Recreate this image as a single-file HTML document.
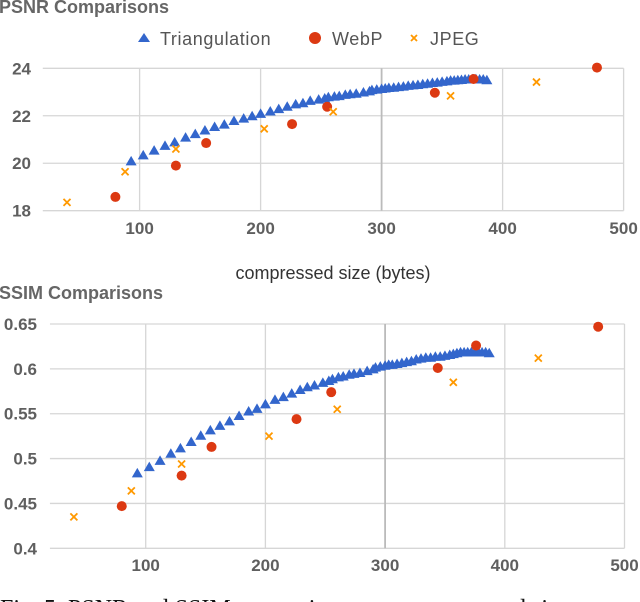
<!DOCTYPE html>
<html><head><meta charset="utf-8"><style>
html,body{margin:0;padding:0;background:#fff;width:640px;height:602px;overflow:hidden}
svg{display:block;font-family:"Liberation Sans",sans-serif}
</style></head><body>
<svg id="chart" width="640" height="602" viewBox="0 0 640 602"></svg>
<script>
const xTicks=[100,200,300,400,500];
const psnrTicks=[18,20,22,24];
const ssimTicks=[0.4,0.45,0.5,0.55,0.6,0.65];
const ssimTickLabels=["0.4","0.45","0.5","0.55","0.6","0.65"];
const triX=[93,103,112,121,129,138,146,154,162,170,178,186,193,200,208,215,222,229,235,241,248,253,256,261,265,270,274,279,285,290,292,296,300,303,306,310,314,318,322,326,330,334,338,342,346,350,354,357,360,363,366,369,372,375,378,381,384,387];
const triPsnr=[20.1,20.35,20.55,20.75,20.9,21.1,21.25,21.4,21.55,21.65,21.8,21.9,22.0,22.1,22.2,22.3,22.4,22.5,22.55,22.65,22.7,22.75,22.8,22.83,22.85,22.9,22.93,22.95,23.0,23.05,23.1,23.12,23.15,23.17,23.19,23.2,23.23,23.25,23.28,23.3,23.32,23.35,23.37,23.4,23.42,23.45,23.47,23.5,23.5,23.52,23.53,23.55,23.55,23.56,23.56,23.55,23.55,23.52];
const triSsim=[0.484,0.491,0.498,0.506,0.512,0.519,0.526,0.532,0.537,0.542,0.548,0.553,0.556,0.561,0.566,0.569,0.573,0.577,0.580,0.582,0.585,0.587,0.589,0.591,0.592,0.594,0.595,0.596,0.598,0.600,0.602,0.603,0.604,0.605,0.605,0.606,0.607,0.608,0.609,0.611,0.612,0.613,0.613,0.614,0.614,0.615,0.616,0.617,0.618,0.619,0.619,0.619,0.619,0.619,0.619,0.619,0.619,0.618];
const webpX=[80,130,155,226,255,344,376,478];
const webpPsnr=[18.58,19.9,20.85,21.65,22.38,22.97,23.55,24.03];
const webpSsim=[0.447,0.481,0.513,0.544,0.574,0.601,0.626,0.647];
const jpegX=[40,88,130,203,260,357,428];
const jpegPsnr=[18.35,19.64,20.6,21.45,22.17,22.84,23.42];
const jpegSsim=[0.435,0.464,0.494,0.525,0.555,0.585,0.612];

const NS="http://www.w3.org/2000/svg";
const svg=document.getElementById('chart');
function mk(tag,attrs,parent){const e=document.createElementNS(NS,tag);for(const k in attrs)e.setAttribute(k,attrs[k]);(parent||svg).appendChild(e);return e;}
function txt(s,attrs,parent){const e=mk('text',attrs,parent);e.textContent=s;return e;}

function drawPanel(cfg){
  const g=mk('g',{});
  
  
  const sx=v=>cfg.x100+(v-100)*cfg.xs;
  const sy=v=>cfg.yBot-(v-cfg.yMin)/(cfg.yMax-cfg.yMin)*(cfg.yBot-cfg.yTop);
  const left=sx(20), right=sx(500);
  cfg.yTicks.forEach((t,i)=>{
    const l=mk('line',{x1:left,x2:right,y1:sy(t),y2:sy(t),stroke:'#d6d6d6','stroke-width':1.3},g);
    
    
    const tl=txt(cfg.yLabels[i],{x:cfg.labelRight,y:sy(t)+6,'text-anchor':'end','font-size':17,fill:'#5f5f5f','font-weight':'bold'},g);
    
    
  });
  xTicks.forEach(t=>{
    const l=mk('line',{x1:sx(t),x2:sx(t),y1:cfg.yTop,y2:cfg.yBot,stroke:t===300?'#bbb':'#d6d6d6','stroke-width':t===300?1.8:1.3},g);
    
    
    const tl=txt(String(t),{x:sx(t),y:cfg.xLabelY,'text-anchor':'middle','font-size':17,fill:'#5f5f5f','font-weight':'bold'},g);
    
    
  });
  triX.forEach((x,i)=>{
    const cx=sx(x),cy=sy(cfg.tri[i]);
    const p=mk('polygon',{points:`${cx-5.5},${cy+4.5} ${cx+5.5},${cy+4.5} ${cx},${cy-5}`,fill:'#3366cc'},g);
    
    
  });
  webpX.forEach((x,i)=>{
    const c=mk('circle',{cx:sx(x),cy:sy(cfg.webp[i]),r:5,fill:'#dc3912'},g);
    
    
  });
  jpegX.forEach((x,i)=>{
    const cx=sx(x),cy=sy(cfg.jpeg[i]);
    const p=mk('path',{d:`M${cx-3.5},${cy-3.5}L${cx+3.5},${cy+3.5}M${cx+3.5},${cy-3.5}L${cx-3.5},${cy+3.5}`,stroke:'#ff9900','stroke-width':1.8},g);
    
    
  });
}

const t1=txt('PSNR Comparisons',{x:-1,y:13,'font-size':18,'font-weight':'bold',fill:'#666'});



const lg=mk('g',{});


const l1=mk('polygon',{points:'138,42 150,42 144,33',fill:'#3366cc'},lg);


const l1t=txt('Triangulation',{x:160,y:45,'font-size':18,fill:'#555','letter-spacing':'0.6'},lg);


const l2=mk('circle',{cx:315,cy:38,r:6,fill:'#dc3912'},lg);


const l2t=txt('WebP',{x:332,y:45,'font-size':18,fill:'#555','letter-spacing':'0.6'},lg);


const l3=mk('path',{d:'M411,35L417,41M417,35L411,41',stroke:'#ff9900','stroke-width':1.8},lg);


const l3t=txt('JPEG',{x:430,y:45,'font-size':18,fill:'#555','letter-spacing':'0.6'},lg);



drawPanel({name:'psnr-chart',x100:139.6,xs:1.21,yMin:18,yMax:24,yTop:68.3,yBot:210.7,yTicks:psnrTicks,yLabels:psnrTicks.map(String),labelRight:31,xLabelY:234,tri:triPsnr,webp:webpPsnr,jpeg:jpegPsnr});

const xt=txt('compressed size (bytes)',{x:333,y:279,'text-anchor':'middle','font-size':18,fill:'#333'});



const t2=txt('SSIM Comparisons',{x:-1,y:299,'font-size':18,'font-weight':'bold',fill:'#666'});



drawPanel({name:'ssim-chart',x100:145.7,xs:1.197,yMin:0.4,yMax:0.65,yTop:324,yBot:548.3,yTicks:ssimTicks,yLabels:ssimTickLabels,labelRight:37,xLabelY:571,tri:triSsim,webp:webpSsim,jpeg:jpegSsim});

const cap=txt('Fig. 5.  PSNR and SSIM comparisons over compressed size',{x:0,y:616,'font-size':24,fill:'#111','font-family':'Liberation Serif, serif'});


</script>
</body></html>
